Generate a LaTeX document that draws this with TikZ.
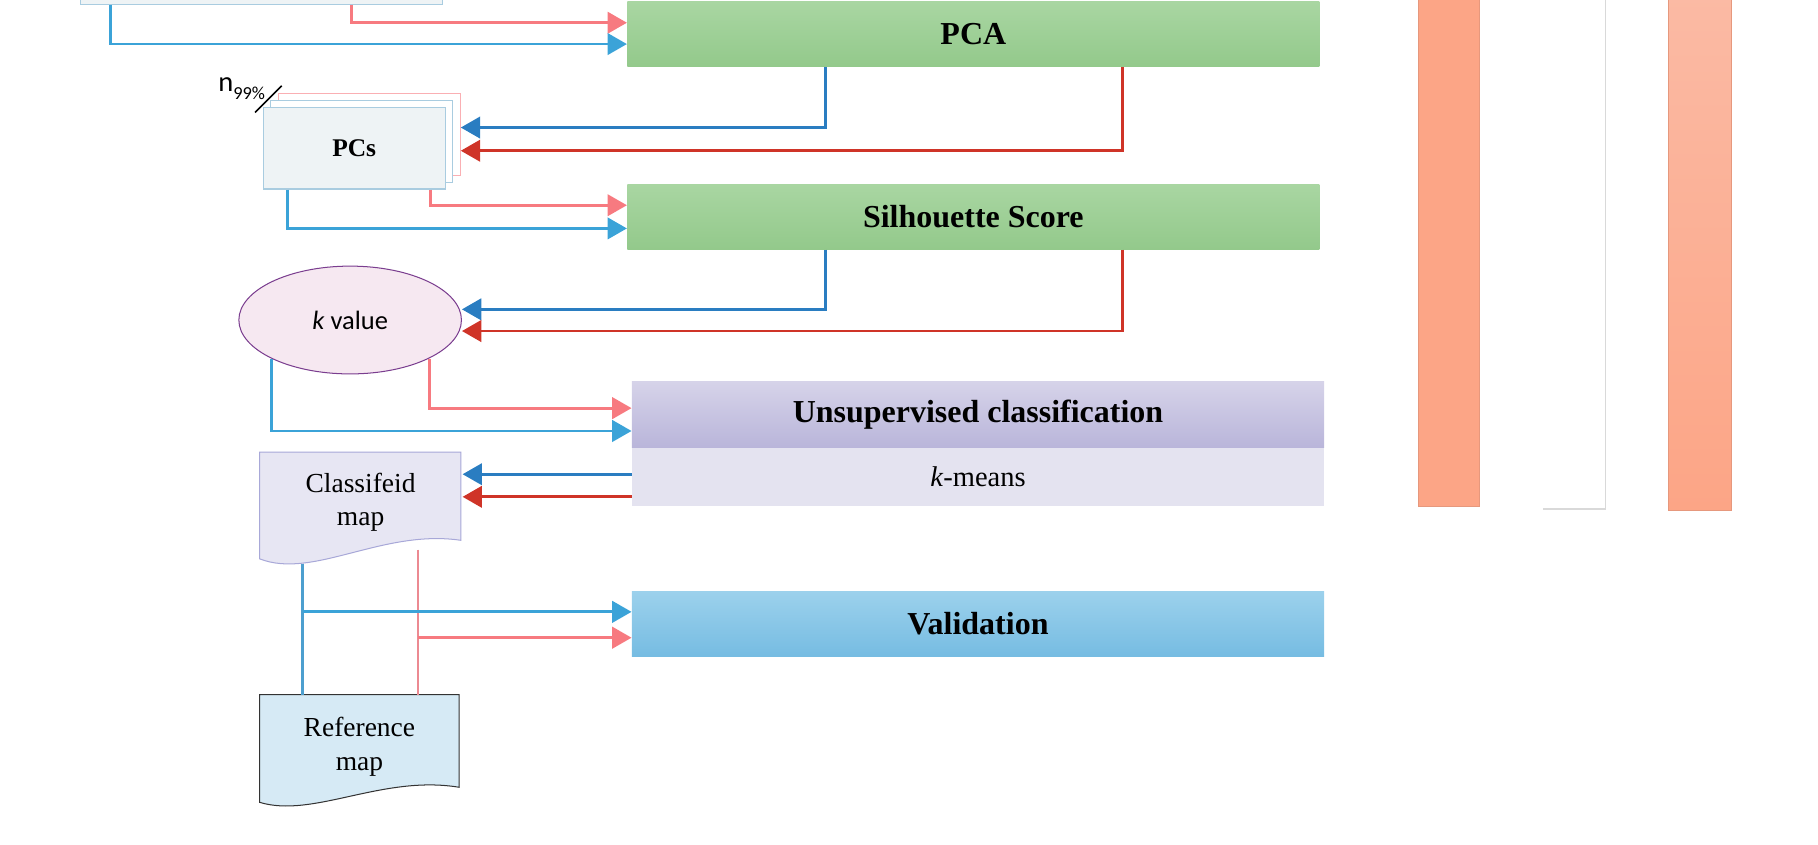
\documentclass[tikz,border=0pt]{standalone}
\usepackage{fontspec}
\setmainfont{Liberation Serif}
\newfontfamily\carlito{Carlito}
\usetikzlibrary{shapes.geometric,arrows.meta}
\definecolor{lred}{HTML}{F77A80}
\definecolor{lblue}{HTML}{3BA3D8}
\definecolor{dred}{HTML}{CF3428}
\definecolor{dblue}{HTML}{2A7DC1}
\definecolor{vblue}{HTML}{4D9FCF}
\definecolor{vred}{HTML}{EC8A92}
\definecolor{grtop}{HTML}{A9D6A2}
\definecolor{grbot}{HTML}{93C98B}
\definecolor{lavtop}{HTML}{D6D3E9}
\definecolor{lavbot}{HTML}{B9B5DA}
\definecolor{kmfill}{HTML}{E4E3F0}
\definecolor{valtop}{HTML}{9CD1EC}
\definecolor{valbot}{HTML}{76BCE2}
\definecolor{pcsfill}{HTML}{EEF3F5}
\definecolor{pcsline}{HTML}{A9CCE0}
\definecolor{orng}{HTML}{FCA586}
\definecolor{orngtop}{HTML}{FBBAA4}
\definecolor{orngline}{HTML}{E6987D}
\definecolor{kfill}{HTML}{F6E8F1}
\definecolor{kline}{HTML}{7A3D8F}
\definecolor{cmfill}{HTML}{E7E6F3}
\definecolor{cmline}{HTML}{A8A8D8}
\definecolor{rmfill}{HTML}{D6EAF5}
\tikzset{
  tip/.style={-{Triangle[length=9.5pt,width=10.5pt]}},
  conn/.style={line width=1.4pt, tip},
  bigbox/.style={rectangle, inner sep=0pt, minimum width=11.94cm,
    font=\fontsize{15.7}{18}\selectfont\bfseries},
  greenbox/.style={bigbox, top color=grtop, bottom color=grbot, minimum height=1.12cm},
  pcsbox/.style={rectangle, inner sep=0pt, minimum width=3.14cm, minimum height=1.41cm, line width=0.5pt},
  doctext/.style={align=center, font=\fontsize{13.5}{16.5}\selectfont, inner sep=0pt}
}
\begin{document}
\begin{tikzpicture}[x=0.02cm,y=-0.02cm]
\useasboundingbox (0,0) rectangle (1568,728);

% top (cut) box
\node[rectangle, inner sep=0pt, minimum width=6.26cm, minimum height=0.6cm,
  fill=pcsfill, draw=pcsline, line width=0.5pt] (top) at (225.5,-11.5) {};

% main boxes
\node[greenbox] (pca) at (839.5,29.5) {PCA};
\node[greenbox] (sil) at (839.5,187) {Silhouette Score};
\node[bigbox, top color=lavtop, bottom color=lavbot, minimum height=1.14cm] (unsup) at (843.5,357.5) {Unsupervised classification};
\node[bigbox, fill=kmfill, minimum height=1.0cm, font=\fontsize{14}{17}\selectfont] (kmeans) at (843.5,411) {\textit{k}-means};
\node[bigbox, top color=valtop, bottom color=valbot, minimum height=1.12cm] (val) at (843.5,538) {Validation};

% PCs stack
\node[pcsbox, fill=white, draw=lred!60] (pcs3) at (318.5,115.75) {};
\node[pcsbox, fill=white, draw=pcsline] (pcs2) at (311.5,121.75) {};
\node[pcsbox, fill=pcsfill, draw=pcsline, font=\fontsize{12.5}{15}\selectfont\bfseries] (pcs) at (305.5,127.75) {PCs};
\draw[line width=0.8pt] (220,97) -- (243,74);
\node[inner sep=0pt, anchor=base west] (nlab) at (188,79)
  {\carlito\fontsize{14}{14}\selectfont n\raisebox{-0.55ex}{\fontsize{9}{9}\selectfont 99\%}};

% k value
\node[ellipse, minimum width=3.84cm, minimum height=1.86cm, inner sep=0pt,
  fill=kfill, draw=kline, line width=0.5pt, font=\carlito\fontsize{13}{15}\selectfont] (kval) at (302,276) {\textit{k} value};

% classified map (document shape)
\path[fill=cmfill, draw=cmline, line width=0.5pt]
  (224,390) -- (397.5,390) -- (397.5,466) .. controls (330,456) and (270,500) .. (224,482) -- cycle;
\node[doctext] (cmap) at (311,433) {Classifeid\\map};

% reference map (document shape)
\path[fill=rmfill, draw=black!80, line width=0.5pt]
  (224,599) -- (396,599) -- (396,679) .. controls (330,668) and (270,706) .. (224,692) -- cycle;
\node[doctext] (rmap) at (310,644) {Reference\\map};
\coordinate (rmtop) at (310,599);

% orange bars
\path[fill=orng, draw=orngline, line width=0.4pt] (1223,-5) rectangle (1276,436.6);
\draw[black!15, line width=0.5pt] (1331,439) -- (1385,439) -- (1385,-5);
\path[top color=orngtop, bottom color=orng, draw=orngline, line width=0.4pt] (1439,-5) rectangle (1493,440);

% connectors
\draw[conn, lred]  (top.south -| 303,0) |- (pca.west |- 0,19.6);
\draw[conn, lblue] (top.south -| 95,0)  |- (pca.west |- 0,38);
\draw[conn, dblue] (pca.south -| 712,0) |- (pcs3.east |- 0,110);
\draw[conn, dred]  (pca.south -| 968,0) |- (pcs3.east |- 0,130);
\draw[conn, lred]  (pcs.south -| 371,0) |- (sil.west |- 0,177);
\draw[conn, lblue] (pcs.south -| 248,0) |- (sil.west |- 0,197);
\draw[conn, dblue] (sil.south -| 712,0) |- (kval.east |- 0,266.8);
\draw[conn, dred]  (sil.south -| 968,0) |- (kval.east |- 0,285.5);
\draw[conn, lred]  (kval.-26.4)  |- (unsup.west |- 0,352);
\draw[conn, lblue] (kval.-154.3) |- (unsup.west |- 0,371.7);
\draw[conn, dblue] (kmeans.west |- 0,409)   -- (399,409);
\draw[conn, dred]  (kmeans.west |- 0,428.5) -- (399,428.5);
\coordinate (cmb) at (261,486);
\coordinate (cmr) at (360.6,474);
\draw[vblue, line width=1.1pt] (cmb) -- (rmtop -| cmb);
\draw[vred, line width=1.1pt] (cmr) -- (rmtop -| cmr);
\draw[conn, lblue] (cmb |- 0,527.7) -- (val.west |- 0,527.7);
\draw[conn, lred]  (cmr |- 0,550)   -- (val.west |- 0,550);
\end{tikzpicture}
\end{document}
